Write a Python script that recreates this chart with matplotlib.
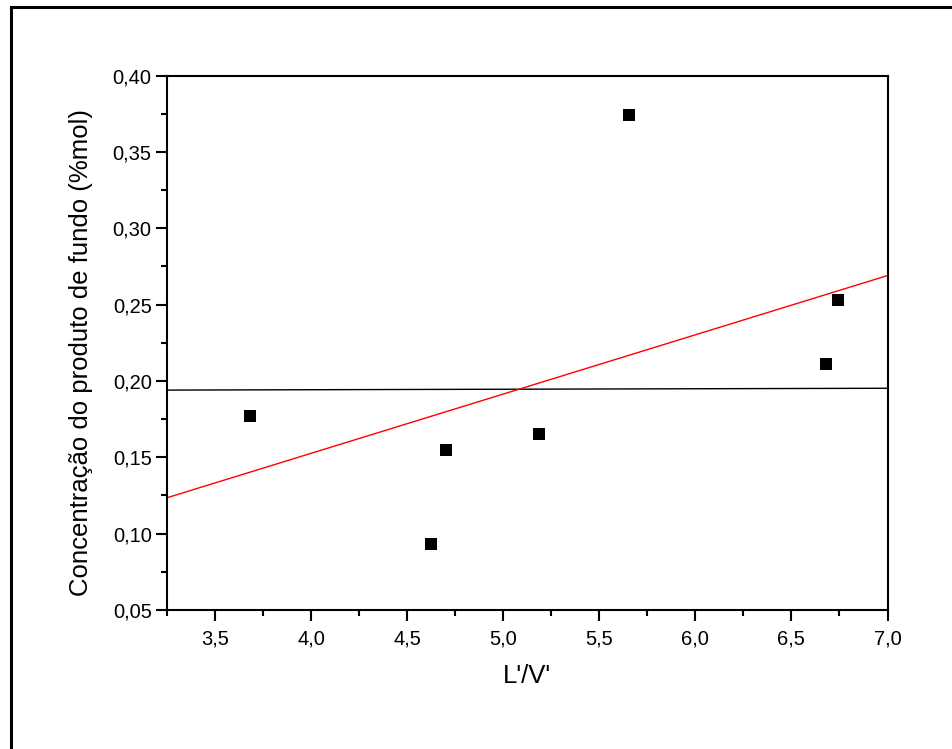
import matplotlib
matplotlib.use("Agg")
import matplotlib.pyplot as plt
from matplotlib.ticker import MultipleLocator, FuncFormatter
from matplotlib.lines import Line2D

plt.rcParams['font.family'] = ['Liberation Sans', 'DejaVu Sans']

# data
lv = [3.68, 4.625, 4.70, 5.185, 5.655, 6.68, 6.74]
conc = [0.177, 0.093, 0.155, 0.165, 0.374, 0.211, 0.253]

# fitted lines (endpoints at axis limits)
fit_x = [3.25, 7.0]
fit_red_y = [0.1235, 0.269]
fit_black_y = [0.194, 0.1952]

xlabel = "L'/V'"
ylabel = "Concentração do produto de fundo (%mol)"

W, H = 952, 749
fig = plt.figure(figsize=(W / 100, H / 100), dpi=100)

# outer frame (only left/top visible)
fig.add_artist(Line2D([10.5 / W, 10.5 / W], [0, 1 - 7.0 / H], transform=fig.transFigure, color='black', lw=2.2))
fig.add_artist(Line2D([10.5 / W, 1], [1 - 7.0 / H, 1 - 7.0 / H], transform=fig.transFigure, color='black', lw=2.2))

l, r, t, b = 167, 887.5, 75.5, 610
ax = fig.add_axes([l / W, 1 - b / H, (r - l) / W, (b - t) / H])

ax.plot(fit_x, fit_black_y, color='black', lw=1.0)
ax.plot(fit_x, fit_red_y, color='red', lw=1.0)
ax.plot(lv, conc, 's', color='black', markersize=8.2, markeredgewidth=0, linestyle='none')

ax.set_xlim(3.25, 7.0)
ax.set_ylim(0.05, 0.40)
ax.xaxis.set_major_locator(MultipleLocator(0.5))
ax.xaxis.set_minor_locator(MultipleLocator(0.25))
ax.yaxis.set_major_locator(MultipleLocator(0.05))
ax.yaxis.set_minor_locator(MultipleLocator(0.025))
ax.xaxis.set_major_formatter(FuncFormatter(lambda v, p: f"{v:.1f}".replace('.', ',')))
ax.yaxis.set_major_formatter(FuncFormatter(lambda v, p: f"{v:.2f}".replace('.', ',')))

for s in ax.spines.values():
    s.set_linewidth(1.5)
ax.tick_params(which='major', direction='out', length=8, width=1.5, labelsize=14.5)
ax.tick_params(axis='y', which='major', pad=3)
ax.tick_params(axis='x', which='major', pad=6)
ax.tick_params(which='minor', direction='out', length=4.5, width=1.5)
ax.tick_params(top=False, right=False, which='both')

ax.set_xlabel(xlabel, fontsize=18.5)
ax.set_ylabel(ylabel, fontsize=18.5)
ax.xaxis.set_label_coords(0.5, (610 - 664) / (b - t))
ax.yaxis.set_label_coords((93 - l) / (r - l), (610 - 353) / (b - t))

fig.savefig("out.png", dpi=100)
